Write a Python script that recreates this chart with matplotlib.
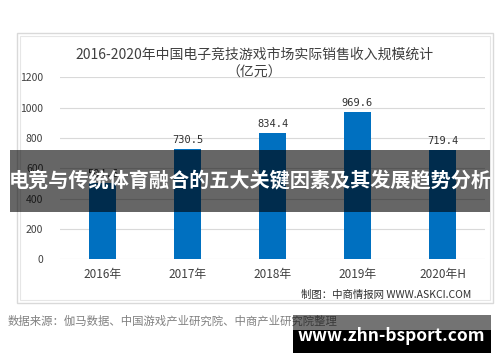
import matplotlib
matplotlib.use("Agg")
import matplotlib.pyplot as plt
from matplotlib.patches import Rectangle

plt.rcParams['font.family'] = ['Noto Sans CJK SC', 'DejaVu Sans']

categories = ["2016年", "2017年", "2018年", "2019年", "2020年H"]
values = [504.6, 730.5, 834.4, 969.6, 719.4]
yticks = [0, 200, 400, 600, 800, 1000, 1200]
title = "2016-2020年中国电子竞技游戏市场实际销售收入规模统计\n（亿元）"
credit = "制图：中商情报网 WWW.ASKCI.COM"
source = "数据来源：伽马数据、中国游戏产业研究院、中商产业研究院整理"
banner = "电竞与传统体育融合的五大关键因素及其发展趋势分析"
site = "www.zhn-bsport.com"

W, H = 500, 362
fig = plt.figure(figsize=(W / 100, H / 100), dpi=100)

def fx(px):
    return px / W

def fy(py):
    return 1 - py / H

# outer frame (double border)
fig.patches.append(Rectangle((fx(17), fy(303)), fx(493) - fx(17), fy(33) - fy(303),
                             transform=fig.transFigure, fill=False, ec="#d9d9d9", lw=1.0))
fig.patches.append(Rectangle((fx(20), fy(300)), fx(490) - fx(20), fy(36) - fy(300),
                             transform=fig.transFigure, fill=False, ec="#e6e6e6", lw=0.8))

ax = fig.add_axes([fx(60), fy(259.3), fx(485) - fx(60), fy(77.3) - fy(259.3)])
x = list(range(len(categories)))
ax.bar(x, values, width=0.32, color="#0070C0", zorder=3)
for xi, v in zip(x, values):
    ax.text(xi, v + 25, f"{v:.1f}", ha="center", va="bottom", fontsize=7.5,
            family=["DejaVu Sans Mono"], color="#303030")
ax.set_xlim(-0.5, len(categories) - 0.5)
ax.set_ylim(0, 1200)
ax.set_yticks(yticks)
ax.set_yticklabels([str(t) for t in yticks], fontsize=7.5, color="#404040")
ax.set_xticks(x)
ax.set_xticklabels(categories, fontsize=8.5, color="#404040")
ax.tick_params(axis="both", length=0, pad=6)
ax.tick_params(axis="y", pad=12)
ax.grid(axis="y", color="#d9d9d9", lw=0.8, zorder=0)
for s in ax.spines.values():
    s.set_visible(False)
ax.patch.set_alpha(0)

fig.text(fx(254), fy(55), "2016-2020年中国电子竞技游戏市场实际销售收入规模统计",
         ha="center", va="center", fontsize=10, color="#404040")
fig.text(fx(254), fy(73), "（亿元）", ha="center", va="center", fontsize=10, color="#404040")
fig.text(fx(471), fy(295), credit, ha="right", va="center", fontsize=7.5, color="#303030")
fig.text(fx(8), fy(321), source, ha="left", va="center", fontsize=8.2, color="#808080")

# banner overlay
fig.patches.append(Rectangle((fx(10), fy(212)), fx(490) - fx(10), fy(150) - fy(212),
                             transform=fig.transFigure, fc="#000000", alpha=0.6, ec="none", zorder=10))
fig.text(fx(250), fy(181), banner, ha="center", va="center", fontsize=14.5,
         fontweight="bold", color="white", zorder=11)

# site watermark box
fig.patches.append(Rectangle((fx(293), fy(330)), fx(491) - fx(293), fy(315) - fy(330),
                             transform=fig.transFigure, fc="#000000", alpha=0.55, ec="none", zorder=10))
fig.patches.append(Rectangle((fx(293), fy(353)), fx(491) - fx(293), fy(330) - fy(353),
                             transform=fig.transFigure, fc="#000000", ec="none", zorder=10))
fig.text(fx(391), fy(336), site, ha="center", va="center", fontsize=12.5,
         fontweight="bold", color="white", zorder=11)

fig.savefig("out.png", dpi=100)
